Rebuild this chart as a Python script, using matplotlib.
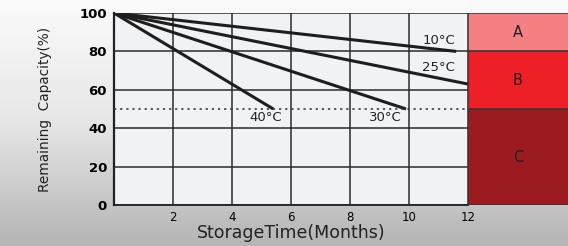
import numpy as np
import matplotlib.pyplot as plt

# discharge lines: start at 100% and end points
temps = ['10°C', '25°C', '30°C', '40°C']
end_month = [11.6, 12.0, 9.9, 5.4]
end_cap = [80, 63, 50, 50]
label_pos = [(11.0, 85.5), (11.0, 71.5), (9.2, 45.5), (5.15, 45.5)]

x_ticks = [2, 4, 6, 8, 10, 12]
y_ticks = [0, 20, 40, 60, 80, 100]

zones = ['A', 'B', 'C']
zone_bounds = [(80, 100), (50, 80), (0, 50)]
zone_colors = ['#F48084', '#EE2027', '#9C1B20']

fig = plt.figure(figsize=(5.68, 2.46), dpi=100)

# gradient background
bg = fig.add_axes([0, 0, 1, 1], zorder=-10)
grad = np.linspace(0, 1, 256).reshape(-1, 1)
bg.imshow(grad, aspect='auto', cmap=plt.matplotlib.colors.LinearSegmentedColormap.from_list(
    'g', ['#FBFBFB', '#E6E6E6', '#B4B4B4']), extent=[0, 1, 0, 1])
bg.axis('off')

ax = fig.add_axes([114/568, 1-205/246, (468-114)/568, (205-13)/246])
ax.set_facecolor('#F1F2F4')
ax.set_xlim(0, 12)
ax.set_ylim(0, 100)
ax.set_xticks(x_ticks)
ax.set_yticks(y_ticks)
ax.grid(True, color='#2b2b2b', lw=1.1)
ax.tick_params(length=0, pad=5)
ax.tick_params(axis='x', pad=4)
for lab in ax.get_xticklabels():
    lab.set_fontsize(8.5)
for lab in ax.get_yticklabels():
    lab.set_fontsize(9.5)
    lab.set_fontweight('bold')
for s in ['top', 'right']:
    ax.spines[s].set_visible(False)
ax.spines['left'].set_linewidth(1.6)
ax.spines['bottom'].set_linewidth(1.3)
ax.spines['left'].set_color('#222222')
ax.spines['bottom'].set_color('#222222')

for t, xm, yc, (lx, ly) in zip(temps, end_month, end_cap, label_pos):
    ax.plot([0, xm], [100, yc], color='#1e1e1e', lw=2.2, solid_capstyle='butt', zorder=3)
    ax.text(lx, ly, t, fontsize=9.5, color='#222222', ha='center', va='center', zorder=4)

ax.axhline(50, color='#333333', lw=1.1, ls=(0, (1.5, 2.5)), zorder=3)

ax.set_xlabel('StorageTime(Months)', fontsize=12.5, color='#222222', labelpad=0)
ax.set_ylabel('Remaining  Capacity(%)', fontsize=9.8, color='#222222', labelpad=20)

# capacity zone panel
pz = fig.add_axes([468/568, 1-205/246, 100/568, (205-13)/246])
pz.set_xlim(0, 1)
pz.set_ylim(0, 100)
for z, (lo, hi), c in zip(zones, zone_bounds, zone_colors):
    pz.axhspan(lo, hi, color=c)
    pz.axhline(lo, color='#333333', lw=1.1)
    pz.text(0.5, (lo + hi) / 2, z, fontsize=10.5, color='#222222', ha='center', va='center')
pz.axhline(100, color='#333333', lw=1.1)
pz.axvline(0, color='#333333', lw=1.1)
pz.axis('off')

fig.savefig('out.png', dpi=100)
